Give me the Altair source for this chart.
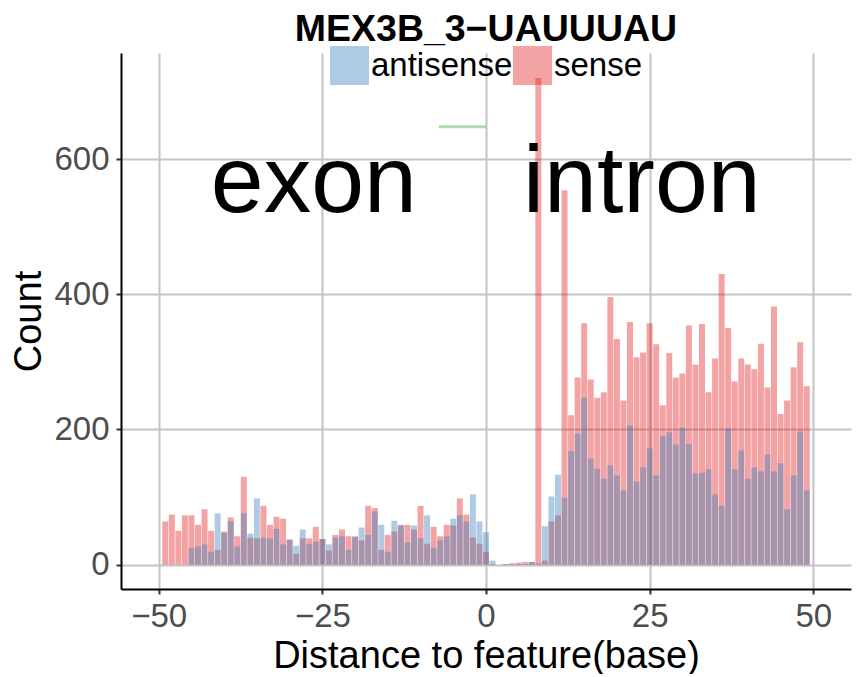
import altair as alt
import pandas as pd

positions = list(range(-49, 50))

sense = [
    64, 74, 50, 73, 73, 59, 82, 50, 22, 49,
    70, 42, 130, 40, 39, 87, 59, 71, 68, 37,
    16, 39, 39, 56, 38, 21, 44, 52, 42, 42,
    36, 87, 84, 22, 44, 49, 58, 59, 52, 87,
    31, 56, 42, 59, 58, 98, 74, 40, 31, 19,
    1, 0, 1, 2, 3, 4, 4, 720, 6, 64,
    73, 554, 221, 277, 357, 274, 247, 255, 396, 334,
    243, 359, 307, 314, 357, 326, 236, 313, 277, 283,
    354, 296, 356, 255, 305, 430, 350, 271, 305, 296,
    289, 327, 262, 382, 223, 243, 292, 329, 264,
]

antisense = [
    0, 0, 0, 0, 25, 27, 30, 19, 76, 47,
    64, 27, 76, 46, 98, 40, 39, 53, 30, 37,
    28, 52, 31, 34, 38, 30, 40, 42, 22, 41,
    55, 44, 79, 59, 19, 65, 59, 33, 58, 39,
    73, 25, 36, 42, 68, 73, 64, 104, 64, 48,
    6, 0, 1, 1, 1, 1, 4, 2, 57, 101,
    133, 99, 168, 194, 247, 157, 142, 127, 147, 132,
    110, 206, 123, 144, 172, 132, 190, 196, 178, 203,
    179, 135, 136, 141, 104, 87, 202, 141, 169, 127,
    144, 138, 163, 138, 150, 82, 132, 197, 110,
]

region_labels = ["exon", "intron"]
region_x = [-26.3, 23.8]
region_y = [522, 522]

seg_x = [-7.2, 0.0]
seg_y = [648, 648]

x_ticks = [-50, -25, 0, 25, 50]
y_ticks = [0, 200, 400, 600]

chart_title = ["MEX3B_3\u2212UAUUUAU"]

FONT = "Liberation Sans"

df_sense = pd.DataFrame({"pos": positions, "count": sense, "strand": "sense"})
df_anti = pd.DataFrame({"pos": positions, "count": antisense, "strand": "antisense"})
df_text = pd.DataFrame({"x": region_x, "y": region_y, "label": region_labels})
df_seg = pd.DataFrame({"x": [seg_x[0]], "x2": [seg_x[1]], "y": [seg_y[0]]})
df_title = pd.DataFrame({"t": chart_title})

xscale = alt.Scale(domain=[-55, 55], nice=False, zero=False)
yscale = alt.Scale(domain=[-36, 757], nice=False, zero=False)

xaxis = alt.Axis(
    values=x_ticks, title="Distance to feature(base)", grid=True,
    gridColor="#c4c4c4", gridWidth=2, domainColor="black", domainWidth=2,
    tickColor="#333333", tickWidth=2, tickSize=5,
    labelFontSize=33, labelColor="#4d4d4d", labelFont=FONT, labelPadding=6,
    titleFontSize=38, titleFont=FONT, titleColor="black", titleFontWeight="normal",
    titlePadding=4, labelFlush=False,
)
yaxis = alt.Axis(
    values=y_ticks, title="Count", grid=True,
    gridColor="#c4c4c4", gridWidth=2, domainColor="black", domainWidth=2,
    tickColor="#333333", tickWidth=2, tickSize=5,
    labelFontSize=33, labelColor="#4d4d4d", labelFont=FONT, labelPadding=7,
    titleFontSize=38, titleFont=FONT, titleColor="black", titleFontWeight="normal",
    titlePadding=5,
)

color = alt.Color(
    "strand:N",
    scale=alt.Scale(domain=["antisense", "sense"], range=["#377EB8", "#E41A1C"]),
    legend=alt.Legend(
        title=None, orient="none", direction="horizontal",
        legendX=209, legendY=-7, padding=0,
        symbolType="square", symbolSize=1521, symbolOpacity=0.4,
        symbolStrokeWidth=0, labelFontSize=33, labelFont=FONT,
        labelColor="black", labelOffset=2, columnPadding=0,
    ),
)

bars_sense = alt.Chart(df_sense).mark_bar(size=6, opacity=0.4).encode(
    x=alt.X("pos:Q", scale=xscale, axis=xaxis),
    y=alt.Y("count:Q", scale=yscale, axis=yaxis),
    y2=alt.datum(0),
    color=color,
)
bars_anti = alt.Chart(df_anti).mark_bar(size=6, opacity=0.4).encode(
    x=alt.X("pos:Q", scale=xscale),
    y=alt.Y("count:Q", scale=yscale),
    y2=alt.datum(0),
    color=color,
)

seg = alt.Chart(df_seg).mark_rule(color="#4DAF4A", opacity=0.45, strokeWidth=3).encode(
    x=alt.X("x:Q", scale=xscale), x2="x2:Q", y=alt.Y("y:Q", scale=yscale)
)

texts = alt.Chart(df_text).mark_text(
    fontSize=95, font=FONT, color="black", align="center", baseline="alphabetic"
).encode(
    x=alt.X("x:Q", scale=xscale), y=alt.Y("y:Q", scale=yscale), text="label:N"
)

title = alt.Chart(df_title).mark_text(
    fontSize=37.5, font=FONT, fontWeight="bold", color="black",
    align="center", baseline="alphabetic",
).encode(x=alt.value(365), y=alt.value(-12), text="t:N")

chart = alt.layer(bars_sense, bars_anti, seg, texts, title).properties(
    width=730, height=536,
    autosize=alt.AutoSizeParams(type="none"),
    padding={"left": 113, "top": 45, "right": 3, "bottom": 85},
).configure_view(stroke=None)

chart.save("out.html", embed_options={"renderer": "svg", "actions": False})
